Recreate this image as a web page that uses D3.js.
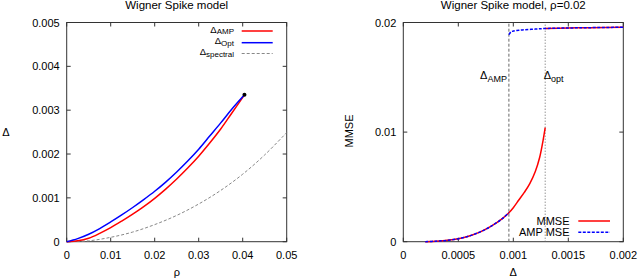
<!DOCTYPE html>
<html><head><meta charset="utf-8">
<script src="https://cdn.jsdelivr.net/npm/d3@7"></script>
<style>body{margin:0;background:#fff}text{font-family:"Liberation Sans",Arial,sans-serif;fill:#000}</style>
</head><body><svg id="c" width="640" height="279"></svg>
<script>
// ---- Left panel data ----
const leftTitle = "Wigner Spike model";
const rho = [0,0.0025,0.005,0.0075,0.01,0.0125,0.015,0.0175,0.02,0.0225,0.025,0.0275,0.03,0.0325,0.035,0.0375,0.0404];
const deltaOpt = [0,0.00007,0.00017,0.0003,0.00045,0.00061,0.00078,0.00096,0.00115,0.00136,0.00159,0.00184,0.00211,0.00241,0.00271,0.00302,0.00335];
const deltaAMP = [0,0.00002,0.00008,0.00019,0.00032,0.00047,0.00063,0.0008,0.00099,0.0012,0.00143,0.00168,0.00195,0.00225,0.00257,0.00293,0.00335];
const rhoSpec = [0,0.005,0.01,0.015,0.02,0.025,0.03,0.035,0.04,0.045,0.05];
const deltaSpec = [0,0.00002,0.0001,0.00022,0.00039,0.0006,0.00086,0.00117,0.00154,0.00198,0.00249];
const triPoint = [0.0404,0.00335];
const leftXTicks = [0,0.01,0.02,0.03,0.04,0.05];
const leftYTicks = [0,0.001,0.002,0.003,0.004,0.005];

// ---- Right panel data ----
const rightTitle = "Wigner Spike model, \u03c1=0.02";
const dLow = [0.0002,0.0003,0.0004,0.0005,0.0006,0.0007,0.0008,0.0009,0.00096];
const mseLow = [0,0.00005,0.00013,0.00027,0.00052,0.0009,0.00142,0.0021,0.00264];
const dMid = [0.00096,0.001,0.00105,0.0011,0.00115,0.0012,0.00124,0.00127,0.00129];
const mseMid = [0.00264,0.0031,0.0038,0.0045,0.0053,0.0064,0.0077,0.0092,0.0104];
const dHigh = [0.00096,0.00098,0.001,0.00105,0.0011,0.0012,0.00129,0.0015,0.0017,0.002];
const mseHigh = [0.0189,0.01915,0.01922,0.01929,0.01934,0.0194,0.01945,0.0195,0.01953,0.01957];
const deltaAMPline = 0.00096;
const deltaOptLine = 0.00129;
const rightXTicks = [0,0.0005,0.001,0.0015,0.002];
const rightYTicks = [0,0.01,0.02];

const svg = d3.select("#c");
const zip = (a,b)=>a.map((v,i)=>[v,b[i]]);

function frame(g, x, y, xt, yt, fmtX, fmtY){
  const [x0,x1]=x.range(), [y0,y1]=y.range();
  g.append("rect").attr("x",x0).attr("y",y1).attr("width",x1-x0).attr("height",y0-y1)
   .attr("fill","none").attr("stroke","#333").attr("stroke-width",1);
  xt.forEach(t=>{
    const px=x(t);
    g.append("line").attr("x1",px).attr("x2",px).attr("y1",y0).attr("y2",y0-4).attr("stroke","#333");
    g.append("line").attr("x1",px).attr("x2",px).attr("y1",y1).attr("y2",y1+4).attr("stroke","#333");
    g.append("text").attr("x",px).attr("y",y0+17).attr("text-anchor","middle").attr("font-size",11).text(fmtX(t));
  });
  yt.forEach(t=>{
    const py=y(t);
    g.append("line").attr("x1",x0).attr("x2",x0+4).attr("y1",py).attr("y2",py).attr("stroke","#333");
    g.append("line").attr("x1",x1).attr("x2",x1-4).attr("y1",py).attr("y2",py).attr("stroke","#333");
    g.append("text").attr("x",x0-7).attr("y",py+4).attr("text-anchor","end").attr("font-size",11).text(fmtY(t));
  });
}
function subText(g, x, y, main, sub, anchor, fs, sfs, dy){
  const t=g.append("text").attr("x",x).attr("y",y).attr("text-anchor",anchor||"start").attr("font-size",fs||11);
  t.append("tspan").text(main);
  t.append("tspan").attr("dy",dy||3).attr("font-size",sfs||9).text(sub);
  return t;
}

// ---- Left panel ----
{
  const g=svg.append("g");
  const x=d3.scaleLinear().domain([0,0.05]).range([66.7,286.7]);
  const y=d3.scaleLinear().domain([0,0.005]).range([241.7,22.5]);
  const line=d3.line().x(d=>x(d[0])).y(d=>y(d[1])).curve(d3.curveCatmullRom);
  frame(g,x,y,leftXTicks,leftYTicks,t=>t===0?"0":d3.format(".2f")(t),t=>t===0?"0":d3.format(".3f")(t));
  g.append("path").attr("d",line(zip(rhoSpec,deltaSpec))).attr("fill","none").attr("stroke","#888").attr("stroke-width",1).attr("stroke-dasharray","3,2");
  g.append("path").attr("d",line(zip(rho,deltaAMP))).attr("fill","none").attr("stroke","#ff0000").attr("stroke-width",1.5);
  g.append("path").attr("d",line(zip(rho,deltaOpt))).attr("fill","none").attr("stroke","#0000ff").attr("stroke-width",1.5);
  g.append("circle").attr("cx",x(triPoint[0])).attr("cy",y(triPoint[1])).attr("r",2).attr("fill","#000");
  g.append("text").attr("x",176.7).attr("y",9).attr("text-anchor","middle").attr("font-size",11.5).text(leftTitle);
  g.append("text").attr("x",177).attr("y",276).attr("text-anchor","middle").attr("font-size",11).text("\u03c1");
  g.append("text").attr("x",6).attr("y",136).attr("text-anchor","middle").attr("font-size",11).text("\u0394");
  // legend
  const leg=[["AMP","#ff0000",null,31],["Opt","#0000ff",null,42.7],["spectral","#888","3,2",53.5]];
  leg.forEach(l=>{
    subText(g,234,l[3]+1.5,"\u0394",l[0],"end",9.5,8,1.5);
    g.append("line").attr("x1",241.7).attr("x2",272.7).attr("y1",l[3]).attr("y2",l[3])
     .attr("stroke",l[1]).attr("stroke-width",l[2]?1:1.5).attr("stroke-dasharray",l[2]);
  });
}

// ---- Right panel ----
{
  const g=svg.append("g");
  const x=d3.scaleLinear().domain([0,0.002]).range([403.3,623.3]);
  const y=d3.scaleLinear().domain([0,0.02]).range([241.7,22.5]);
  const line=d3.line().x(d=>x(d[0])).y(d=>y(d[1])).curve(d3.curveCatmullRom);
  frame(g,x,y,rightXTicks,rightYTicks,t=>t===0?"0":String(+t.toFixed(4)),t=>t===0?"0":d3.format(".2f")(t));
  g.append("line").attr("x1",x(deltaAMPline)).attr("x2",x(deltaAMPline)).attr("y1",y(0)).attr("y2",y(0.02))
   .attr("stroke","#666").attr("stroke-width",1).attr("stroke-dasharray","3,2");
  g.append("line").attr("x1",x(deltaOptLine)).attr("x2",x(deltaOptLine)).attr("y1",y(0)).attr("y2",y(0.02))
   .attr("stroke","#666").attr("stroke-width",1).attr("stroke-dasharray","1,2");
  const redLow=zip(dLow,mseLow).concat(zip(dMid,mseMid).slice(1));
  g.append("path").attr("d",line(redLow)).attr("fill","none").attr("stroke","#ff0000").attr("stroke-width",1.5);
  const redHigh=zip(dHigh,mseHigh).filter(d=>d[0]>=deltaOptLine);
  g.append("path").attr("d",line(redHigh)).attr("fill","none").attr("stroke","#ff0000").attr("stroke-width",1.5);
  g.append("path").attr("d",line(zip(dLow,mseLow))).attr("fill","none").attr("stroke","#0000ff").attr("stroke-width",1.5).attr("stroke-dasharray","3,1.5");
  g.append("path").attr("d",line(zip(dHigh,mseHigh))).attr("fill","none").attr("stroke","#0000ff").attr("stroke-width",1.5).attr("stroke-dasharray","3,1.5");
  subText(g,x(deltaAMPline)-2,79,"\u0394","AMP","end");
  subText(g,x(deltaOptLine)-1.5,79,"\u0394","opt","start");
  g.append("text").attr("x",513.3).attr("y",9).attr("text-anchor","middle").attr("font-size",11.5).text(rightTitle);
  g.append("text").attr("x",513.3).attr("y",276).attr("text-anchor","middle").attr("font-size",11).text("\u0394");
  g.append("text").attr("transform","translate(353,131) rotate(-90)").attr("text-anchor","middle").attr("font-size",11).text("MMSE");
  const leg=[["MMSE","#ff0000",null,221],["AMP MSE","#0000ff","3,1.5",232.3]];
  leg.forEach(l=>{
    g.append("text").attr("x",569.5).attr("y",l[3]+4).attr("text-anchor","end").attr("font-size",11).text(l[0]);
    g.append("line").attr("x1",578.3).attr("x2",610).attr("y1",l[3]).attr("y2",l[3])
     .attr("stroke",l[1]).attr("stroke-width",1.5).attr("stroke-dasharray",l[2]);
  });
}
</script></body></html>
